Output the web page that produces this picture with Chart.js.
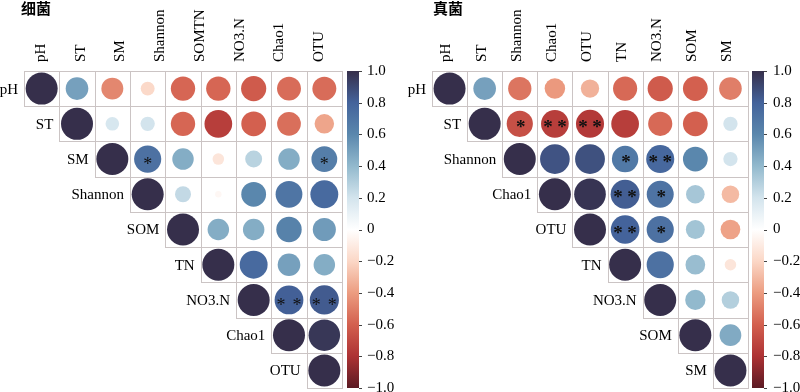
<!DOCTYPE html>
<html><head><meta charset="utf-8">
<script src="https://cdn.jsdelivr.net/npm/chart.js@4.4.0/dist/chart.umd.min.js"></script>
<style>
html,body{margin:0;padding:0;background:#fff;}
#wrap{display:flex;width:800px;height:392px;}
canvas{display:block;}
</style></head><body>
<div id="wrap"><canvas id="c1" width="400" height="392"></canvas><canvas id="c2" width="400" height="392"></canvas></div>
<script>
// ---------- data ----------
const bactTitle = '细菌';
const bactVars = ['pH','ST','SM','Shannon','SOM','TN','NO3.N','Chao1','OTU'];
const bactColLabels = ['pH','ST','SM','Shannon','SOMTN','NO3.N','Chao1','OTU'];
// upper triangle: row i holds the values for columns i..8
const bactCorr = [
  [1, 0.50, -0.47, -0.19, -0.58, -0.58, -0.62, -0.56, -0.56],
  [1, 0.18, 0.20, -0.58, -0.75, -0.60, -0.55, -0.37],
  [1, 0.72, 0.45, -0.13, 0.28, 0.45, 0.65],
  [1, 0.25, -0.04, 0.60, 0.70, 0.76],
  [1, 0.45, 0.45, 0.63, 0.52],
  [1, 0.76, 0.50, 0.45],
  [1, 0.81, 0.83],
  [1, 0.97],
  [1]
];
const bactSig = [['SM','Shannon','*'],['SM','OTU','*'],['NO3.N','Chao1','**'],['NO3.N','OTU','**']];

const fungTitle = '真菌';
const fungVars = ['pH','ST','Shannon','Chao1','OTU','TN','NO3.N','SOM','SM'];
const fungColLabels = ['pH','ST','Shannon','Chao1','OTU','TN','NO3.N','SOM','SM'];
const fungCorr = [
  [1, 0.50, -0.53, -0.41, -0.33, -0.57, -0.62, -0.60, -0.50],
  [1, -0.67, -0.75, -0.77, -0.75, -0.57, -0.60, 0.20],
  [1, 0.86, 0.87, 0.68, 0.77, 0.60, 0.20],
  [1, 0.98, 0.82, 0.71, 0.34, -0.30],
  [1, 0.80, 0.72, 0.35, -0.38],
  [1, 0.72, 0.38, -0.13],
  [1, 0.40, 0.30],
  [1, 0.46],
  [1]
];
const fungSig = [['ST','Shannon','*'],['ST','Chao1','**'],['ST','OTU','**'],['Shannon','TN','*'],['Shannon','NO3.N','**'],
  ['Chao1','TN','**'],['Chao1','NO3.N','*'],['OTU','TN','**'],['OTU','NO3.N','*']];

const colorbarMin = -1, colorbarMax = 1, colorbarStep = 0.2;

// ---------- style ----------
const palette = [
  [-1, '#5b1a23'], [-0.8, '#ad3234'], [-0.6, '#d3604f'], [-0.4, '#ec9c80'], [-0.2, '#fbd7c6'],
  [0, '#ffffff'], [0.2, '#d3e4ed'], [0.4, '#92b9cd'], [0.6, '#5a87ad'], [0.8, '#44639b'], [1, '#362f4b']
];
const serif = '"Liberation Serif", "DejaVu Serif", serif';

function hex2rgb(h){ return [1,3,5].map(k => parseInt(h.substr(k,2),16)); }
function colorFor(v){
  for (let k = 0; k < palette.length - 1; k++){
    const [v0,c0] = palette[k], [v1,c1] = palette[k+1];
    if (v >= v0 && v <= v1){
      const t = (v - v0)/(v1 - v0), a = hex2rgb(c0), b = hex2rgb(c1);
      return 'rgb(' + a.map((x,i) => Math.round(x + (b[i]-x)*t)).join(',') + ')';
    }
  }
  return v < 0 ? palette[0][1] : palette[palette.length-1][1];
}

function makeChart(id, title, vars, colLabels, corr, sig, g){
  const points = [];
  corr.forEach((row, i) => row.forEach((v, k) => points.push({x: i + k, y: i, v: v})));

  const drawPlugin = {
    id: 'corrDraw',
    beforeDatasetsDraw(chart){
      const c = chart.ctx, xs = chart.scales.x, ys = chart.scales.y;
      c.save();
      c.strokeStyle = '#cbc4c4'; c.lineWidth = 1;
      const n = vars.length;
      for (let i = 0; i < n; i++){
        for (let j = i; j < n; j++){
          const x0 = Math.round(xs.getPixelForValue(j - 0.5)) + 0.5, x1 = Math.round(xs.getPixelForValue(j + 0.5)) + 0.5;
          const y0 = Math.round(ys.getPixelForValue(i - 0.5)) + 0.5, y1 = Math.round(ys.getPixelForValue(i + 0.5)) + 0.5;
          c.strokeRect(x0, y0, x1 - x0, y1 - y0);
        }
      }
      // row labels
      c.fillStyle = '#000'; c.font = '15px ' + serif; c.textAlign = 'right'; c.textBaseline = 'middle';
      vars.forEach((name, i) => c.fillText(name, xs.getPixelForValue(i - 0.5) - 6, ys.getPixelForValue(i) + 1));
      // title
      c.font = 'bold 15px "Noto Sans CJK SC"'; c.textAlign = 'left'; c.textBaseline = 'top';
      c.fillText(title, g.titleX, 1);
      // colorbar
      const cb = chart.scales.yCb;
      const bx = cb.left + g.barOffset, bw = 12;
      const yt = cb.getPixelForValue(colorbarMax), yb = cb.getPixelForValue(colorbarMin);
      const grad = c.createLinearGradient(0, yt, 0, yb);
      palette.forEach(([v, col]) => grad.addColorStop((colorbarMax - v)/(colorbarMax - colorbarMin), col));
      c.fillStyle = grad; c.fillRect(bx, yt, bw, yb - yt);
      c.strokeStyle = '#444'; c.lineWidth = 1;
      cb.ticks.forEach(t => {
        const y = Math.round(cb.getPixelForValue(t.value)) + 0.5;
        c.beginPath(); c.moveTo(bx + bw, y); c.lineTo(bx + bw + 3, y); c.stroke();
      });
      c.restore();
    },
    afterDatasetsDraw(chart){
      const c = chart.ctx, xs = chart.scales.x, ys = chart.scales.y;
      c.save();
      c.fillStyle = '#111'; c.font = g.starFont; c.textAlign = 'center'; c.textBaseline = 'alphabetic';
      sig.forEach(([r, col, s]) => {
        const i = vars.indexOf(r), j = vars.indexOf(col);
        const x = xs.getPixelForValue(j), y = ys.getPixelForValue(i) + g.starDy;
        if (s.length === 1) c.fillText('*', x + g.starDx, y);
        else { c.fillText('*', x - g.starGap, y); c.fillText('*', x + g.starGap, y); }
      });
      c.restore();
    }
  };

  return new Chart(document.getElementById(id), {
    type: 'bubble',
    data: { datasets: [{
      xAxisID: 'x', yAxisID: 'y',
      data: points,
      clip: false,
      backgroundColor: ctx => colorFor(ctx.raw ? ctx.raw.v : 0),
      borderWidth: 0,
      radius: ctx => ctx.raw ? g.maxR * Math.sqrt(Math.abs(ctx.raw.v)) : 0,
      hoverRadius: 0
    }]},
    options: {
      responsive: false, animation: false, events: [], devicePixelRatio: 1,
      layout: { autoPadding: false, padding: { left: g.padLeft, right: 0, top: 0, bottom: 4 } },
      plugins: { legend: { display: false }, tooltip: { enabled: false } },
      scales: {
        x: { type: 'linear', min: -0.5, max: vars.length - 0.5, display: false },
        y: { type: 'linear', min: -0.5, max: vars.length - 0.5, reverse: true, display: false },
        xTop: {
          type: 'category', labels: colLabels, position: 'top', offset: true,
          grid: { display: false, drawTicks: false }, border: { display: false },
          ticks: { minRotation: 90, maxRotation: 90, autoSkip: false, padding: 9, labelOffset: 15, color: '#000', font: { family: serif, size: 15 } },
          afterFit: s => { s.height = 71; s.paddingLeft = 0; s.paddingRight = 0; }
        },
        yCb: {
          type: 'linear', position: 'right', min: colorbarMin, max: colorbarMax,
          grid: { display: false, drawTicks: false }, border: { display: false },
          ticks: {
            stepSize: colorbarStep, padding: g.labelPad, color: '#000', font: { family: serif, size: 15 },
            callback: v => Math.abs(v) < 1e-9 ? '0' : (v < 0 ? '\u2212' : '') + Math.abs(v).toFixed(1)
          },
          afterFit: s => { s.width = g.cbWidth; s.paddingTop = 0; s.paddingBottom = 0; }
        }
      }
    },
    plugins: [drawPlugin]
  });
}

makeChart('c1', bactTitle, bactVars, bactColLabels, bactCorr, bactSig,
  { padLeft: 24, cbWidth: 58, barOffset: 5, labelPad: 25, titleX: 21, maxR: 16, starFont: '18px ' + serif, starDx: 0, starDy: 11, starGap: 8 });
makeChart('c2', fungTitle, fungVars, fungColLabels, fungCorr, fungSig,
  { padLeft: 32, cbWidth: 52, barOffset: 4, labelPad: 25, titleX: 33, maxR: 16, starFont: 'bold 19px ' + serif, starDx: 1, starDy: 9, starGap: 7 });
</script>
</body></html>
